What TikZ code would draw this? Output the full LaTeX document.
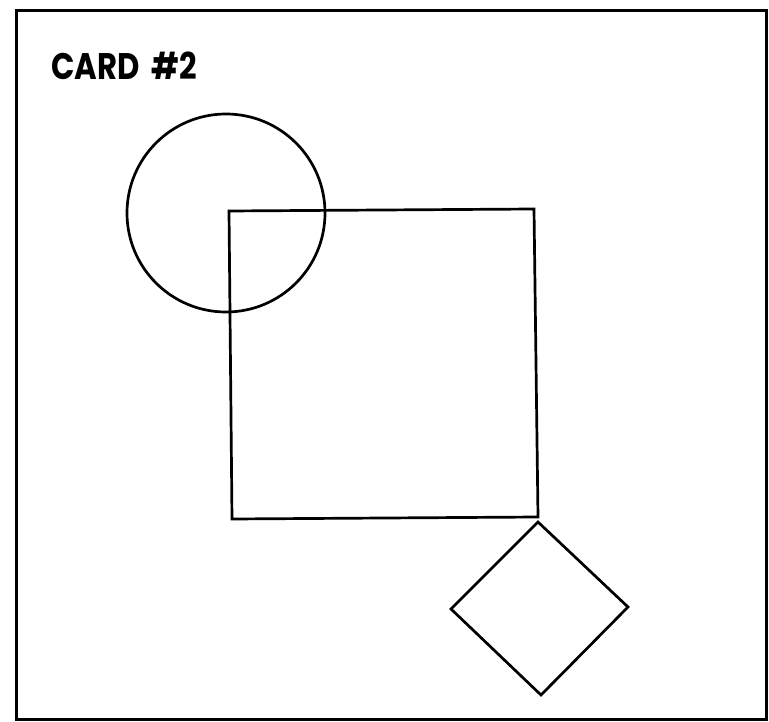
\documentclass[tikz,border=0pt]{standalone}
\usepackage{fontspec}
\newfontfamily\cardfont[FakeStretch=0.83]{Poppins}
\begin{document}
\begin{tikzpicture}[
    x=1pt, y=-1pt,
    % outline of the card and of the figures on it
    frame/.style={draw, line width=3pt},
    figline/.style={draw, line width=2.7pt, line join=miter},
    title/.style={font=\cardfont\bfseries\fontsize{37}{40}\selectfont, inner sep=0pt, anchor=west}
]
    \useasboundingbox (0,0) rectangle (769,722);

    % --- Card border ---
    \draw[frame] (16,11) rectangle (766,719);

    % --- Title ---
    \node[title] (cardtitle) at (51,66) {CARD\hspace{12pt}\#2};

    % --- Circle ---
    \draw[figline] (226,213) circle (99);

    % --- Square ---
    \coordinate (sqtl) at (229,211);
    \coordinate (sqtr) at (534,209);
    \coordinate (sqbr) at (538,517);
    \coordinate (sqbl) at (232,519);
    \draw[figline] (sqtl) -- (sqtr) -- (sqbr) -- (sqbl) -- cycle;

    % --- Diamond ---
    \coordinate (dtop) at (538,522);
    \coordinate (dright) at (628,607);
    \coordinate (dbottom) at (541,695);
    \coordinate (dleft) at (451,609);
    \draw[figline] (dtop) -- (dright) -- (dbottom) -- (dleft) -- cycle;
\end{tikzpicture}
\end{document}
